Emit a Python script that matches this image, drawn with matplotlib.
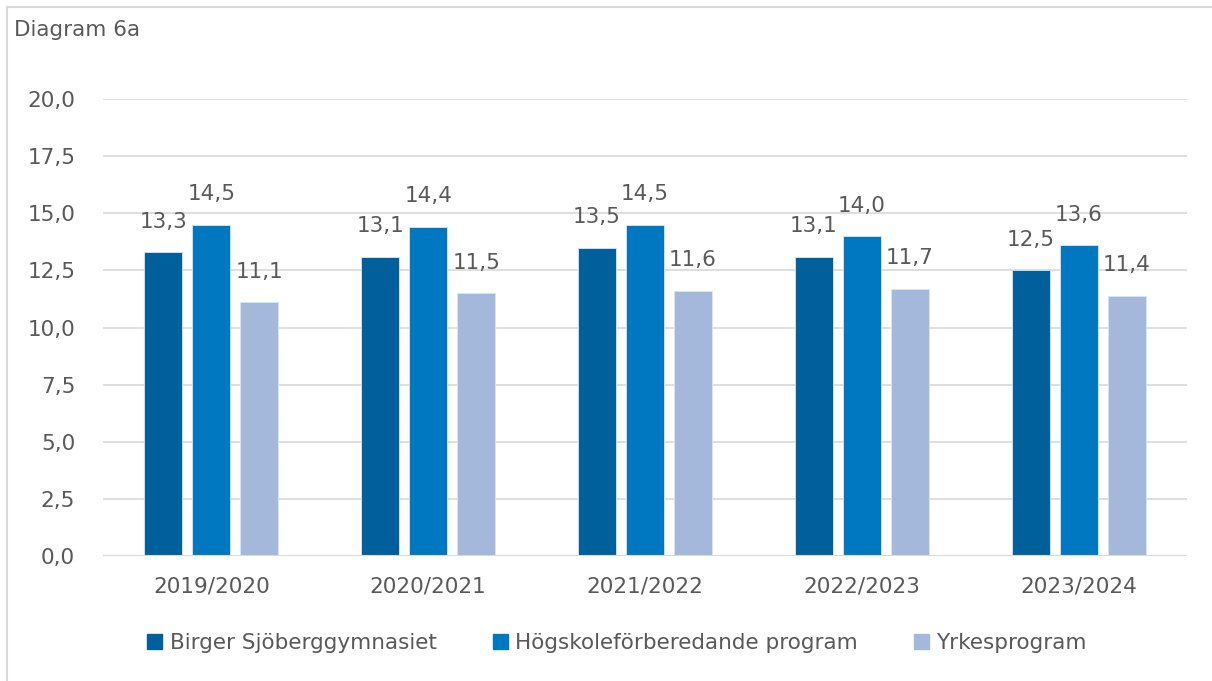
import matplotlib
matplotlib.use("Agg")
import matplotlib.pyplot as plt
from matplotlib.lines import Line2D
from matplotlib.patches import Patch
import numpy as np

plt.rcParams['font.family'] = ['DejaVu Sans']

categories = ["2019/2020", "2020/2021", "2021/2022", "2022/2023", "2023/2024"]
series_names = ["Birger Sjöberggymnasiet", "Högskoleförberedande program", "Yrkesprogram"]
birger = [13.3, 13.1, 13.5, 13.1, 12.5]
hogskola = [14.5, 14.4, 14.5, 14.0, 13.6]
yrkes = [11.1, 11.5, 11.6, 11.7, 11.4]
yticks = [0, 2.5, 5, 7.5, 10, 12.5, 15, 17.5, 20]

colors = ["#00609C", "#0078C1", "#A3B8DB"]
txt = "#595959"
fs = 15.5

W, H = 1212, 681
fig = plt.figure(figsize=(W/100, H/100), dpi=100)
ax = fig.add_axes([103/W, 1-556/H, (1187-103)/W, (556-99)/H])

x = np.arange(len(categories))
bw = 38/216.8
step = 48/216.8
for i, (vals, c) in enumerate(zip([birger, hogskola, yrkes], colors)):
    pos = x + (i-1)*step
    ax.bar(pos, vals, width=bw, color=c, edgecolor="#DDE6F2", linewidth=0.6, zorder=3)
    for p, v in zip(pos, vals):
        ax.text(p, v + 0.9, f"{v:.1f}".replace(".", ","), ha="center", va="bottom",
                fontsize=fs, color=txt)

ax.set_xlim(-0.5, len(categories)-0.5)
ax.set_ylim(0, 20)
ax.set_yticks(yticks)
ax.set_yticklabels([f"{t:.1f}".replace(".", ",") for t in yticks], fontsize=fs, color=txt)
ax.set_xticks(x)
ax.set_xticklabels(categories, fontsize=fs, color=txt)
ax.tick_params(axis='both', length=0)
ax.tick_params(axis='y', pad=20)
ax.tick_params(axis='x', pad=15)
ax.grid(axis='y', color="#D9D9D9", linewidth=1.2, zorder=0)
for s in ax.spines.values():
    s.set_visible(False)
ax.axhline(0, color="#D9D9D9", linewidth=1.5, zorder=4)

# title
fig.text(14/W, 1-30/H, "Diagram 6a", fontsize=fs, color=txt, va="center", ha="left")

# border
fig.add_artist(Line2D([7/W, 7/W], [0, 1-7/H], color="#D9D9D9", linewidth=1.5))
fig.add_artist(Line2D([7/W, 1], [1-7/H, 1-7/H], color="#D9D9D9", linewidth=1.5))

handles = [Patch(facecolor=c, edgecolor=c) for c in colors]
fig.legend(handles, series_names, loc="center", bbox_to_anchor=(617/W, 1-643/H),
           ncol=3, frameon=False, fontsize=fs, labelcolor=txt,
           handlelength=0.7, handleheight=0.7, handletextpad=0.35, columnspacing=2.6)

fig.savefig("out.png", dpi=100)
